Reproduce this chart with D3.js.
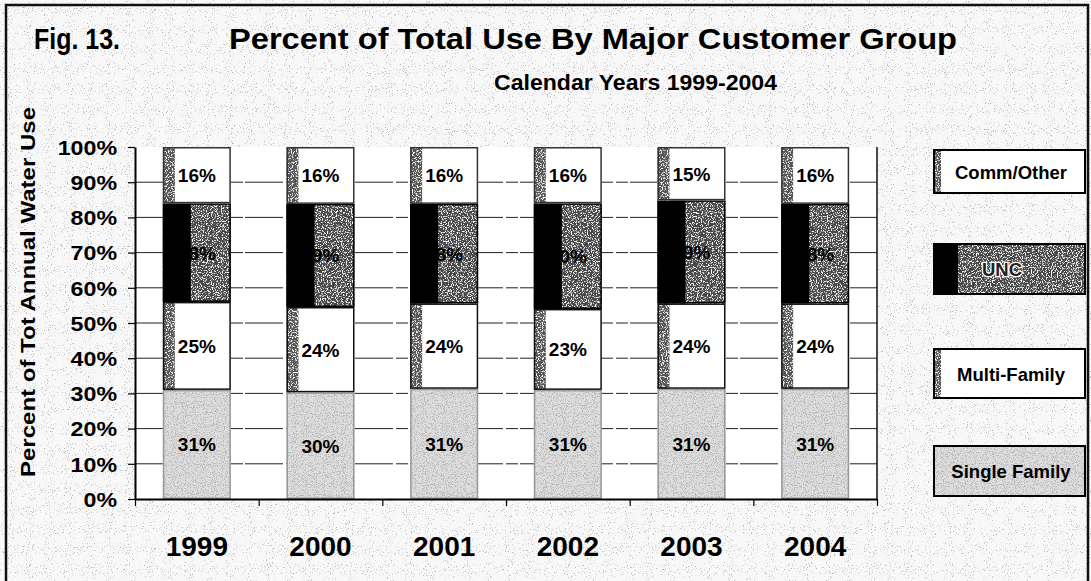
<!DOCTYPE html>
<html><head><meta charset="utf-8">
<script src="https://cdn.jsdelivr.net/npm/d3@7"></script>
<style>
html,body{margin:0;padding:0;background:#fff;}
svg{display:block;font-family:Arial,"Liberation Sans",sans-serif;font-weight:bold;}
</style></head>
<body>
<svg id="c" width="1091" height="581"></svg>
<script>
// ---- data ----
const years = ["1999","2000","2001","2002","2003","2004"];
const singleFamily = [31,30,31,31,31,31];
const multiFamily  = [25,24,24,23,24,24];
const unc          = [28,29,28,30,29,28];
const commOther    = [16,16,16,16,15,16];
const seriesNames  = ["Single Family","Multi-Family","UNC","Comm/Other"];
const yTicks = [0,0.1,0.2,0.3,0.4,0.5,0.6,0.7,0.8,0.9,1.0];

const rows = years.map((y,i)=>({year:y,"Single Family":singleFamily[i],"Multi-Family":multiFamily[i],"UNC":unc[i],"Comm/Other":commOther[i]}));

const svg = d3.select("#c");
const defs = svg.append("defs");

function speck(id, color, k, b, freq, seed){
  const f = defs.append("filter").attr("id",id).attr("x",0).attr("y",0).attr("width",1).attr("height",1);
  f.append("feTurbulence").attr("type","fractalNoise").attr("baseFrequency",freq).attr("numOctaves",2).attr("seed",seed).attr("result","n");
  const c = d3.color(color);
  const r=c.r/255,g=c.g/255,bl=c.b/255;
  f.append("feColorMatrix").attr("in","n").attr("type","matrix")
   .attr("values",`0 0 0 0 ${r} 0 0 0 0 ${g} 0 0 0 0 ${bl} ${k} 0 0 0 ${b}`).attr("result","d");
  f.append("feComposite").attr("in","d").attr("in2","SourceGraphic").attr("operator","atop");
}
speck("bgSpeck","#777",7,-4.4,0.95,3);
speck("lightSpeck","#777",6,-3.0,0.9,5);
speck("darkSpeck","#ffffff",6,-3.1,0.8,9);

const W=1091,H=581;
const L=135,R=877,T=147,B=499;

// background
svg.append("rect").attr("x",0).attr("y",0).attr("width",W).attr("height",H).attr("fill","#f8f8f8").attr("filter","url(#bgSpeck)");
// frame
svg.append("rect").attr("x",6).attr("y",5).attr("width",1082).attr("height",600).attr("fill","none").attr("stroke","#111").attr("stroke-width",2.5);

// plot area
svg.append("rect").attr("x",L).attr("y",T).attr("width",R-L).attr("height",B-T).attr("fill","#fff");

const x = d3.scaleBand().domain(years).range([L,R]).paddingInner(0.45).paddingOuter(0.225);
const y = d3.scaleLinear().domain([0,1]).range([B,T]);
const xb = d3.scaleLinear().domain([0,years.length]).range([L,R]);

// gridlines
svg.append("g").selectAll("line").data(yTicks.slice(1,-1)).join("line")
  .attr("x1",L).attr("x2",R).attr("y1",d=>y(d)).attr("y2",d=>y(d))
  .attr("stroke","#222").attr("stroke-width",1).attr("stroke-dasharray","38 3 12 2");

// stacked bars
const stack = d3.stack().keys(seriesNames).offset(d3.stackOffsetExpand);
const stacked = stack(rows);

const styles = {
  "Single Family": {base:"#dedede", baseFilter:"lightSpeck", strip:0, stripFill:null, stroke:"#999"},
  "Multi-Family":  {base:"#ffffff", baseFilter:null, strip:12, stripFill:"#555", stroke:"#111"},
  "UNC":           {base:"#474747", baseFilter:"darkSpeck", strip:28, stripFill:"#000", stroke:"#000"},
  "Comm/Other":    {base:"#ffffff", baseFilter:null, strip:12, stripFill:"#555", stroke:"#333"}
};

const gBars = svg.append("g");
stacked.forEach(s=>{
  const st = styles[s.key];
  const g = gBars.append("g").attr("class","series");
  g.selectAll("rect.base").data(s).join("rect").attr("class","base")
    .attr("x",d=>x(d.data.year)).attr("width",x.bandwidth())
    .attr("y",d=>y(d[1])).attr("height",d=>y(d[0])-y(d[1]))
    .attr("fill",st.base).attr("filter",st.baseFilter?`url(#${st.baseFilter})`:null);
  if(st.strip){
    g.selectAll("rect.strip").data(s).join("rect").attr("class","strip")
      .attr("x",d=>x(d.data.year)).attr("width",st.strip)
      .attr("y",d=>y(d[1])).attr("height",d=>y(d[0])-y(d[1]))
      .attr("fill",st.stripFill).attr("filter",st.stripFill==="#555"?"url(#darkSpeck)":null);
  }
  g.selectAll("rect.outline").data(s).join("rect").attr("class","outline")
    .attr("x",d=>x(d.data.year)+0.75).attr("width",x.bandwidth()-1.5)
    .attr("y",d=>y(d[1])+0.75).attr("height",d=>y(d[0])-y(d[1])-1.5)
    .attr("fill","none").attr("stroke",st.stroke).attr("stroke-width",1.5);
  // labels
  g.selectAll("text").data(s).join("text")
    .attr("x",d=>x(d.data.year)+x.bandwidth()/2)
    .attr("y",d=>(y(d[0])+y(d[1]))/2+7)
    .attr("text-anchor","middle").attr("font-size",19).attr("fill","#000")
    .text(d=>d.data[s.key]+"%");
});

// right border
svg.append("line").attr("x1",R).attr("x2",R).attr("y1",T).attr("y2",B).attr("stroke","#111").attr("stroke-width",1.5);

// y axis
const yAxis = svg.append("g").attr("transform",`translate(${L},0)`)
  .call(d3.axisLeft(y).tickValues(yTicks).tickFormat(d3.format(".0%")).tickSize(7).tickSizeOuter(0));
yAxis.select(".domain").attr("stroke","#000").attr("stroke-width",2);
yAxis.selectAll(".tick line").attr("stroke","#000").attr("stroke-width",1.2);
yAxis.selectAll(".tick text").attr("x",-15.5).attr("dy","0.36em")
  .attr("font-size",20).attr("font-weight","bold").attr("font-family","Arial,'Liberation Sans',sans-serif")
  .attr("fill","#000").attr("transform","scale(1.16,1)");

// x axis (boundaries ticks)
const xAxis = svg.append("g").attr("transform",`translate(0,${B})`)
  .call(d3.axisBottom(xb).tickValues(d3.range(0,years.length+1)).tickFormat("").tickSize(7).tickSizeOuter(0));
xAxis.select(".domain").attr("stroke","#000").attr("stroke-width",2);
xAxis.selectAll(".tick line").attr("stroke","#000").attr("stroke-width",1.2);

// year labels
const xLab = svg.append("g").attr("transform",`translate(0,${B})`)
  .call(d3.axisBottom(x).tickSize(0).tickPadding(0));
xLab.select(".domain").remove();
xLab.selectAll("text").attr("y",57).attr("dy",0).attr("font-size",28).attr("font-weight","bold")
  .attr("font-family","Arial,'Liberation Sans',sans-serif").attr("fill","#000");

// titles
svg.append("text").attr("x",34).attr("y",49).attr("font-size",30).attr("textLength",86).attr("lengthAdjust","spacingAndGlyphs").text("Fig. 13.");
svg.append("text").attr("x",229).attr("y",49).attr("font-size",30).attr("textLength",728).attr("lengthAdjust","spacingAndGlyphs").text("Percent of Total Use By Major Customer Group");
svg.append("text").attr("x",494).attr("y",90).attr("font-size",22).attr("textLength",283).attr("lengthAdjust","spacingAndGlyphs").text("Calendar Years 1999-2004");

// y title
svg.append("text").attr("transform","translate(35,292) rotate(-90)").attr("text-anchor","middle")
  .attr("font-size",20).attr("textLength",370).attr("lengthAdjust","spacingAndGlyphs").text("Percent of Tot Annual Water Use");

// legend
const legendItems = ["Comm/Other","UNC","Multi-Family","Single Family"];
const legendBoxY = [150,244,349,446];
const legendBoxH = [43,50,49,50];
const lx=934, lw=151;
const lg = svg.append("g");
legendItems.forEach((name,i)=>{
  const st = styles[name];
  const by = legendBoxY[i], bh = legendBoxH[i];
  lg.append("rect").attr("x",lx).attr("y",by).attr("width",lw).attr("height",bh)
    .attr("fill",st.base).attr("filter",st.baseFilter?`url(#${st.baseFilter})`:null);
  if(st.strip){
    lg.append("rect").attr("x",lx).attr("y",by).attr("width",name==="UNC"?24:7).attr("height",bh)
      .attr("fill",st.stripFill).attr("filter",st.stripFill==="#555"?"url(#darkSpeck)":null);
  }
  lg.append("rect").attr("x",lx).attr("y",by).attr("width",lw).attr("height",bh)
    .attr("fill","none").attr("stroke","#000").attr("stroke-width",2);
  const t = lg.append("text").attr("x",name==="UNC"?1002:1011).attr("y",by+bh/2+7)
    .attr("text-anchor","middle").attr("font-size",18.5).attr("fill","#000").text(name);
  if(name==="UNC"){ t.attr("fill","#222").attr("stroke","#fff").attr("stroke-width",2.5).attr("paint-order","stroke"); }
});
</script>
</body></html>
